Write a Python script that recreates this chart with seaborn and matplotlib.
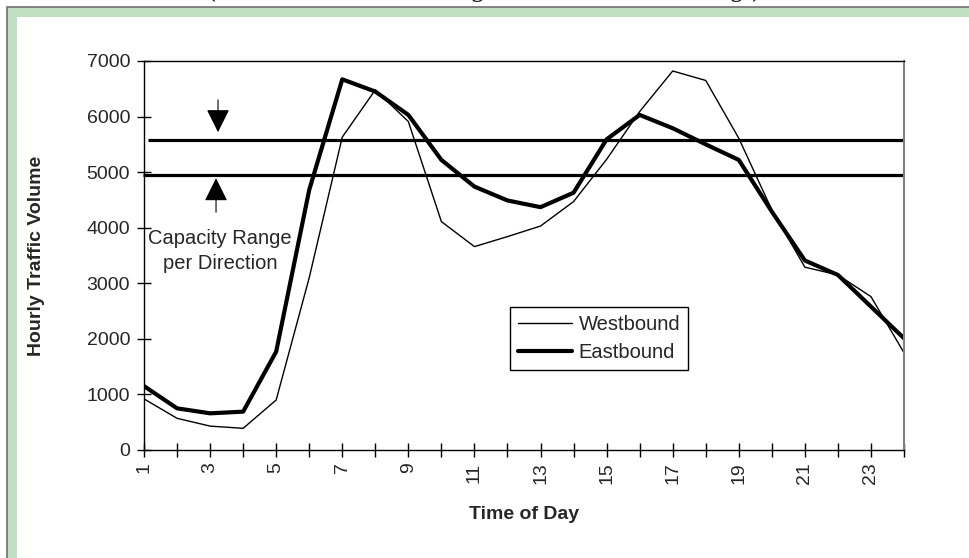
import matplotlib
matplotlib.use("Agg")
import matplotlib.pyplot as plt
from matplotlib.patches import Rectangle
import seaborn as sns
import pandas as pd

# data
hours = list(range(1, 25))
westbound = [920, 570, 430, 390, 900, 3100, 5630, 6480, 5910, 4110, 3660, 3840,
             4030, 4470, 5230, 6090, 6820, 6650, 5610, 4320, 3290, 3150, 2760, 1750]
eastbound = [1150, 750, 660, 690, 1770, 4680, 6670, 6450, 6030, 5220, 4740, 4490,
             4370, 4630, 5590, 6030, 5790, 5500, 5220, 4290, 3410, 3150, 2580, 2010]
cap_upper = 5580
cap_lower = 4950
xtick_labels = [str(h) for h in range(1, 24, 2)]
title_text = "(Between Hewitt Interchange and Tri-State Interchange)"

df = pd.DataFrame({"hour": hours, "Westbound": westbound, "Eastbound": eastbound})

sns.set_style("ticks")
plt.rcParams["font.family"] = ["Liberation Sans", "DejaVu Sans"]

W, H = 969, 558
fig = plt.figure(figsize=(W / 100, H / 100), dpi=100)

# green frame around the chart (cut off right and bottom)
fig.patches.append(Rectangle((7 / W, -0.1), 1.2, 1 - 7 / H + 0.1, transform=fig.transFigure,
                             facecolor="#c1dfc1", edgecolor="#707070", linewidth=1.2, zorder=-5))
fig.patches.append(Rectangle((17 / W, -0.1), 1.2, 1 - 17 / H + 0.1, transform=fig.transFigure,
                             facecolor="white", edgecolor="none", zorder=-4))

# title, mostly cut off by the top edge as in the source
fig.text(484 / W, 1 + 2.5 / H, title_text, ha="center", va="baseline",
         family="Liberation Serif", weight="bold", fontsize=16.5)

ax = fig.add_axes([144 / W, 1 - 450 / H, (904 - 144) / W, (450 - 61) / H])
ax.set_facecolor("white")

sns.lineplot(data=df, x="hour", y="Westbound", ax=ax, color="black", linewidth=1.0,
             label="Westbound")
sns.lineplot(data=df, x="hour", y="Eastbound", ax=ax, color="black", linewidth=3.0,
             label="Eastbound")

# capacity range lines
ax.hlines(cap_upper, 1.12, 24, color="black", linewidth=2.3, clip_on=False)
ax.hlines(cap_lower, 0.97, 24, color="black", linewidth=2.3, clip_on=False)

arrow = dict(arrowstyle="-|>,head_length=1.0,head_width=0.5", color="black",
             mutation_scale=14.5, linewidth=0.8, shrinkA=0, shrinkB=0)
ax.annotate("", xy=(3.24, 5720), xytext=(3.24, 6300), arrowprops=arrow)
ax.annotate("", xy=(3.18, 4890), xytext=(3.18, 4280), arrowprops=arrow)
ax.text(3.3, 3580, "Capacity Range\nper Direction", ha="center", va="center",
        fontsize=14.5, linespacing=1.35)

ax.set_xlim(1, 24)
ax.set_ylim(0, 7000)
ax.set_yticks(range(0, 7001, 1000))
ax.set_xticks(hours, minor=True)
ax.set_xticks(range(1, 24, 2))
ax.set_xticklabels(xtick_labels, rotation=90, va="top", ha="center")
ax.tick_params(axis="both", which="both", direction="inout", length=10, width=1,
               labelsize=14, color="black")
ax.tick_params(axis="x", which="both", pad=4)
ax.tick_params(axis="y", pad=5)

for side in ["left", "bottom", "top"]:
    ax.spines[side].set_color("black")
    ax.spines[side].set_linewidth(1)
ax.spines["right"].set_color("#808080")
ax.spines["right"].set_linewidth(1.5)

ax.set_xlabel("Time of Day", fontsize=14, weight="bold", labelpad=16)
ax.set_ylabel("Hourly Traffic Volume", fontsize=14, weight="bold", labelpad=30)

leg = ax.legend(loc="upper left", bbox_to_anchor=((510 - 144) / 760, (450 - 307) / 389),
                frameon=True, fancybox=False, framealpha=1, edgecolor="black",
                fontsize=14.5, handlelength=2.7, handletextpad=0.3, borderpad=0.4,
                labelspacing=0.45, borderaxespad=0)
leg.get_frame().set_linewidth(1)

fig.savefig("out.png", dpi=100)
